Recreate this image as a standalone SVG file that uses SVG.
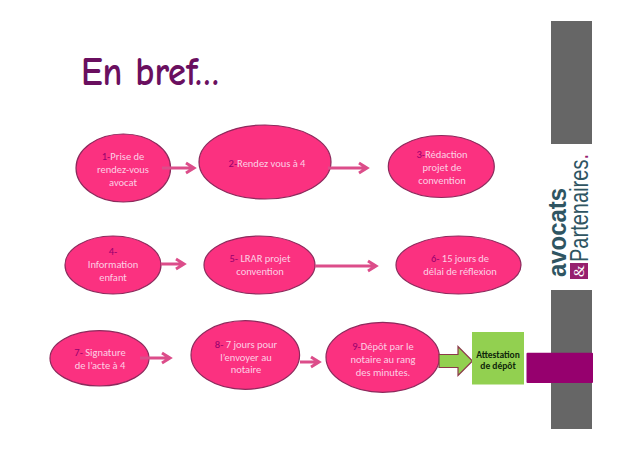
<svg xmlns="http://www.w3.org/2000/svg" width="638" height="451" viewBox="0 0 638 451">
<style>
.n{fill:#fb3180;stroke:#8c2a5c;stroke-width:1.2}
.t{font-family:"Carlito","Liberation Sans",sans-serif;font-size:10.5px;fill:#fbd0e4;text-anchor:middle}
.k{fill:#96006e}
.c{fill:none;stroke:#dc4d8a;stroke-width:3}
</style>
<rect width="638" height="451" fill="#fff"/>
<g id="sidebar">
<rect x="551" y="21" width="41" height="123" fill="#666"/>
<rect x="551" y="290" width="41" height="139" fill="#666"/>
<text transform="translate(566 277) rotate(-90)" font-family="'Liberation Sans',sans-serif" font-weight="bold" font-size="26" textLength="89" lengthAdjust="spacingAndGlyphs" fill="#2f5562">avocats</text>
<rect x="570" y="263" width="18" height="16" fill="#96206e"/>
<text transform="translate(584 277) rotate(-90)" font-family="'Liberation Serif',serif" font-size="15" fill="#fff">&amp;</text>
<text transform="translate(588 262) rotate(-90)" font-family="'Liberation Sans',sans-serif" font-size="25" textLength="108" lengthAdjust="spacingAndGlyphs" fill="#2f5562">Partenaires<tspan fill="#96206e">.</tspan></text>
</g>
<text id="title" x="81" y="85" font-family="'Comic Neue','DejaVu Sans',sans-serif" font-weight="bold" font-size="41" textLength="138" lengthAdjust="spacingAndGlyphs" fill="#6a0f5f">En bref…</text>
<g id="n1"><ellipse class="n" cx="123.300" cy="168" rx="47.300" ry="34"/><text class="t"><tspan x="123" y="160"><tspan class="k">1-</tspan>Prise de</tspan><tspan x="123" y="173">rendez-vous</tspan><tspan x="123" y="186">avocat</tspan></text></g>
<g id="n2"><ellipse class="n" cx="265" cy="162" rx="66" ry="37"/><text class="t" x="267" y="166.500"><tspan class="k">2-</tspan>Rendez vous à 4</text></g>
<g id="n3"><ellipse class="n" cx="441.300" cy="166.500" rx="53" ry="31"/><text class="t"><tspan x="442" y="157.500"><tspan class="k">3-</tspan>Rédaction</tspan><tspan x="442" y="171">projet de</tspan><tspan x="442" y="184">convention</tspan></text></g>
<g id="n4"><ellipse class="n" cx="113" cy="265" rx="48" ry="29"/><text class="t"><tspan x="113" y="255" class="k">4-</tspan><tspan x="113" y="268">Information</tspan><tspan x="113" y="281">enfant</tspan></text></g>
<g id="n5"><ellipse class="n" cx="259.500" cy="265" rx="55.500" ry="29"/><text class="t"><tspan x="260" y="262"><tspan class="k">5-</tspan> LRAR projet</tspan><tspan x="260" y="275">convention</tspan></text></g>
<g id="n6"><ellipse class="n" cx="458.500" cy="265" rx="62.500" ry="29"/><text class="t"><tspan x="460" y="262"><tspan class="k">6-</tspan> 15 jours de</tspan><tspan x="460" y="275">délai de réflexion</tspan></text></g>
<g id="n7"><ellipse class="n" cx="99.500" cy="358.300" rx="49.500" ry="27.700"/><text class="t"><tspan x="100" y="356"><tspan class="k">7-</tspan> Signature</tspan><tspan x="100" y="369">de l’acte à 4</tspan></text></g>
<g id="n8"><ellipse class="n" cx="245.300" cy="355" rx="54.300" ry="34.300"/><text class="t"><tspan x="246" y="348"><tspan class="k">8-</tspan> 7 jours pour</tspan><tspan x="246" y="361">l’envoyer au</tspan><tspan x="246" y="373">notaire</tspan></text></g>
<g id="n9"><ellipse class="n" cx="382.700" cy="357.300" rx="56.700" ry="35"/><text class="t"><tspan x="383" y="350"><tspan class="k">9-</tspan>Dépôt par le</tspan><tspan x="383" y="363">notaire au rang</tspan><tspan x="383" y="376">des minutes.</tspan></text></g>
<g id="connectors">
<path class="c" d="M162 168H194M186 163L194 168L186 173"/>
<path class="c" d="M328 168H367M359 163L367 168L359 173"/>
<path class="c" d="M161 264H184M176 259L184 264L176 269"/>
<path class="c" d="M315 266H376M368 261L376 266L368 271"/>
<path class="c" d="M140 358H170M162 353L170 358L162 363"/>
<path class="c" d="M300 362H319M311 357L319 362L311 367"/>
<path d="M439 354.500H458V346.500L472.500 361L458 375.500V367.500H439Z" fill="#92d050" stroke="#8c3a4a" stroke-width="1.200"/>
</g>
<g id="attestation"><rect x="472" y="332" width="52" height="52.500" fill="#92d050"/><text font-family="Carlito,'Liberation Sans',sans-serif" font-size="9.500" font-weight="bold" fill="#10280a" text-anchor="middle" x="498" y="357.500">Attestation</text><text font-family="Carlito,'Liberation Sans',sans-serif" font-size="9.500" font-weight="bold" fill="#10280a" text-anchor="middle" x="498" y="368.500">de dépôt</text></g>
<rect id="band" x="526.500" y="352.700" width="66.500" height="30.300" rx="1" fill="#96006e"/>
</svg>
